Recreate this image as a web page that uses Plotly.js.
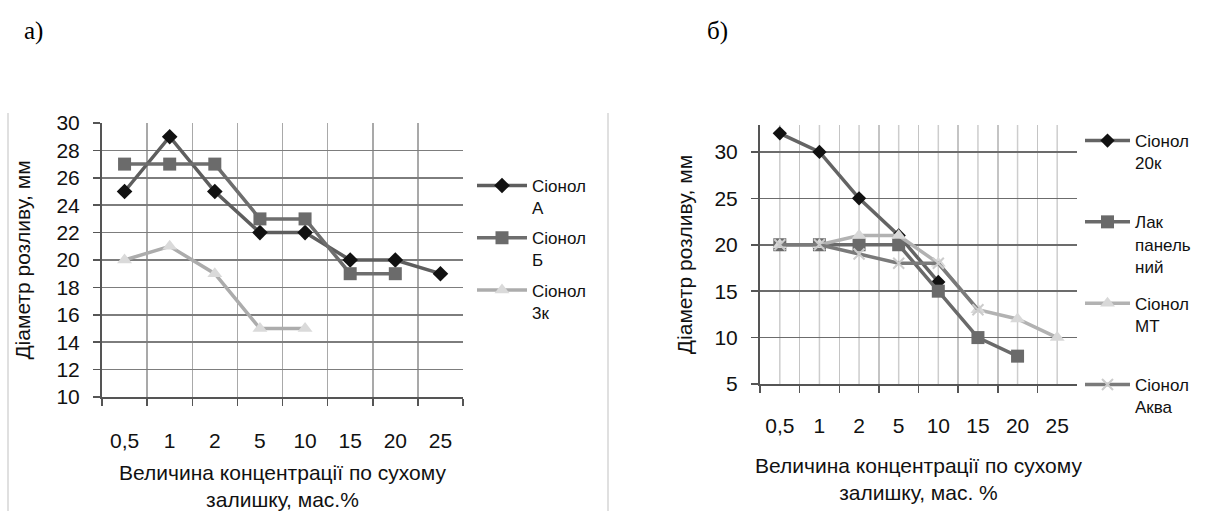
<!DOCTYPE html>
<html>
<head>
<meta charset="utf-8">
<script src="https://cdn.plot.ly/plotly-3.0.1.min.js"></script>
<style>
html,body{margin:0;padding:0;background:#fff;}
#chart{width:1216px;height:511px;}
</style>
</head>
<body>
<div id="chart"></div>
<script>
// ---- data ----
const categories = ['0,5', '1', '2', '5', '10', '15', '20', '25'];

// panel a)
const sionolA  = [25, 29, 25, 22, 22, 20, 20, 19];
const sionolB  = [27, 27, 27, 23, 23, 19, 19, null];
const sionol3k = [20, 21, 19, 15, 15, null, null, null];

// panel б)
const sionol20k  = [32, 30, 25, 21, 16, null, null, null];
const lakPanel   = [20, 20, 20, 20, 15, 10, 8, null];
const sionolMT   = [20, 20, 21, 21, 18, 13, 12, 10];
const sionolAkva = [20, 20, 19, 18, 18, 13, null, null];

const namesA = ['Сіонол<br>А', 'Сіонол<br>Б', 'Сіонол<br>3к'];
const namesB = ['Сіонол<br>20к<br> ', 'Лак<br>панель<br>ний', 'Сіонол<br>МТ<br> ', 'Сіонол<br>Аква'];

const yTitle = 'Діаметр розливу, мм';
const xTitleA = 'Величина концентрації по сухому<br>залишку, мас.%';
const xTitleB = 'Величина концентрації по сухому<br>залишку, мас. %';

const FONT = 'Liberation Sans, Arial, sans-serif';

function tr(y, name, lineColor, symbol, mColor, mSize, xa, ya, legend, group, mLine) {
  return {
    x: categories, y: y, name: name, type: 'scatter', mode: 'lines+markers',
    xaxis: xa, yaxis: ya, legend: legend, legendgroup: group,
    line: {color: lineColor, width: 3.5},
    marker: {symbol: symbol, color: mColor, size: mSize,
             line: mLine || {width: 0}}
  };
}

const traces = [
  tr(sionolA,  namesA[0], '#5e5e5e', 'diamond',     '#111111', 12, 'x',  'y',  'legend', 'a1'),
  tr(sionolB,  namesA[1], '#6e6e6e', 'square',      '#6b6b6b', 13, 'x',  'y',  'legend', 'a2'),
  tr(sionol3k, namesA[2], '#acacac', 'triangle-up', '#dadada', 13, 'x',  'y',  'legend', 'a3'),
  tr(sionol20k,  namesB[0], '#646464', 'diamond',     '#111111', 11, 'x2', 'y2', 'legend2', 'b1'),
  tr(lakPanel,   namesB[1], '#6a6a6a', 'square',      '#6a6a6a', 13, 'x2', 'y2', 'legend2', 'b2'),
  tr(sionolMT,   namesB[2], '#b2b2b2', 'triangle-up', '#d8d8d8', 13, 'x2', 'y2', 'legend2', 'b3'),
  tr(sionolAkva, namesB[3], '#7a7a7a', 'x-thin-open', '#cccccc', 11, 'x2', 'y2', 'legend2', 'b4',
     {width: 2, color: '#cccccc'})
];

const W = 1216, H = 511;
const px = v => v / W;
const py = v => 1 - v / H;

const TF = {family: FONT, size: 21, color: '#111'};
const TITLEF = {family: FONT, size: 21, color: '#111'};

const xCommon = {
  type: 'category', tickson: 'boundaries', showgrid: true,
  range: [-0.5, categories.length - 0.5], autorange: false,
  ticks: 'outside', ticklen: 7, tickcolor: '#555', tickwidth: 1.5,
  showline: true, linecolor: '#555', linewidth: 2,
  tickfont: TF, tickangle: 0,
  fixedrange: true, zeroline: false
};
const yCommon = {
  showgrid: true, gridwidth: 1.5,
  ticks: 'outside', ticklen: 7, tickcolor: '#555', tickwidth: 1.5,
  showline: true, linecolor: '#555', linewidth: 2,
  tickfont: TF, ticklabelstandoff: 9,
  zeroline: false, fixedrange: true
};

const layout = {
  width: W, height: H,
  margin: {l: 0, r: 0, t: 0, b: 0},
  paper_bgcolor: '#ffffff', plot_bgcolor: '#ffffff',
  font: {family: FONT, color: '#111'},
  xaxis: Object.assign({}, xCommon, {
    domain: [px(102), px(463)], anchor: 'y',
    gridcolor: '#a9a9a9', gridwidth: 1.5,
    ticklabelstandoff: 24,
    title: {text: xTitleA, font: TITLEF, standoff: 14}
  }),
  yaxis: Object.assign({}, yCommon, {
    domain: [py(397), py(123)], anchor: 'x',
    range: [10, 30], dtick: 2, tick0: 10,
    gridcolor: '#7d7d7d',
    title: {text: yTitle, font: TITLEF, standoff: 20}
  }),
  xaxis2: Object.assign({}, xCommon, {
    domain: [px(760), px(1077)], anchor: 'y2',
    gridcolor: '#c4c4c4', gridwidth: 1.5,
    ticklabelstandoff: 22,
    title: {text: xTitleB, font: TITLEF, standoff: 22}
  }),
  yaxis2: Object.assign({}, yCommon, {
    domain: [py(384), py(125)], anchor: 'x2',
    range: [5, 32.9], tickvals: [5, 10, 15, 20, 25, 30],
    gridcolor: '#6c6c6c',
    title: {text: yTitle, font: TITLEF, standoff: 16}
  }),
  legend: {
    x: px(472), y: py(168), xanchor: 'left', yanchor: 'top',
    bgcolor: 'rgba(0,0,0,0)', borderwidth: 0, valign: 'top',
    itemwidth: 50, tracegroupgap: 5,
    font: {family: FONT, size: 17, color: '#111'}
  },
  legend2: {
    x: px(1080), y: py(123), xanchor: 'left', yanchor: 'top',
    bgcolor: 'rgba(0,0,0,0)', borderwidth: 0, valign: 'top',
    itemwidth: 45, tracegroupgap: 12,
    font: {family: FONT, size: 17, color: '#111'}
  },
  annotations: [
    {text: 'а)', xref: 'paper', yref: 'paper', x: px(22), y: py(31), xanchor: 'left', yanchor: 'middle',
     showarrow: false, font: {family: 'Liberation Serif, Times New Roman, serif', size: 25, color: '#000'}},
    {text: 'б)', xref: 'paper', yref: 'paper', x: px(705), y: py(31), xanchor: 'left', yanchor: 'middle',
     showarrow: false, font: {family: 'Liberation Serif, Times New Roman, serif', size: 25, color: '#000'}}
  ],
  shapes: [
    {type: 'line', xref: 'paper', yref: 'paper', x0: px(8), x1: px(8), y0: py(113), y1: 0,
     line: {color: '#d6d6d6', width: 1.5}},
    {type: 'line', xref: 'paper', yref: 'paper', x0: px(608), x1: px(608), y0: py(113), y1: 0,
     line: {color: '#d6d6d6', width: 1.5}}
  ],
  showlegend: true
};

// minor vertical gridlines through category centres on panel б)
categories.forEach((c, i) => {
  layout.shapes.push({type: 'line', xref: 'x2', yref: 'y2 domain', x0: i, x1: i, y0: 0, y1: 1,
    layer: 'below', line: {color: '#cdcdcd', width: 1.5}});
});

Plotly.newPlot('chart', traces, layout, {displayModeBar: false, staticPlot: true});
</script>
</body>
</html>
